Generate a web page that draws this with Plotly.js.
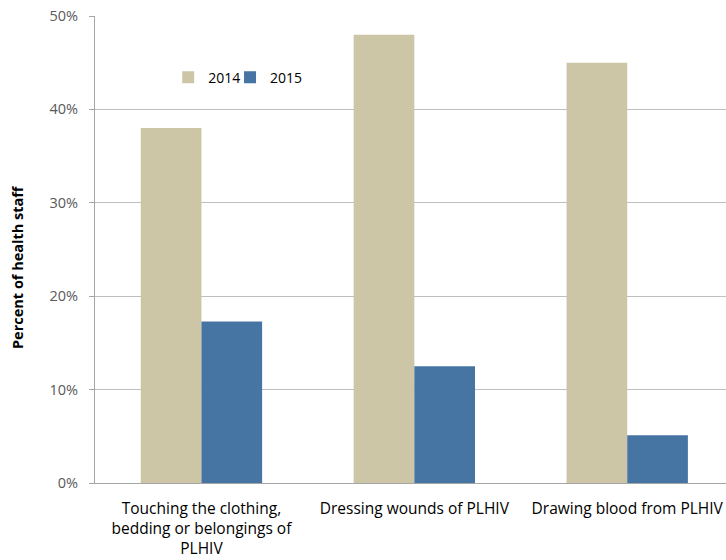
<!DOCTYPE html>
<html><head><meta charset="utf-8">
<script src="https://cdn.plot.ly/plotly-3.0.1.min.js"></script>
<style>html,body{margin:0;padding:0;background:#fff;}#chart{width:726px;height:560px;}</style>
</head><body><div id="chart"></div>
<script>
const categories = ["Touching the clothing,<br>bedding or belongings of<br>PLHIV", "Dressing wounds of PLHIV", "Drawing blood from PLHIV"];
const values2014 = [0.38, 0.48, 0.45];
const values2015 = [0.173, 0.125, 0.051];
const seriesNames = ["2014", "2015"];
const yTickVals = [0, 0.1, 0.2, 0.3, 0.4, 0.5];
const yTickText = ["0%", "10%", "20%", "30%", "40%", "50%"];
const yTitle = "Percent of health staff";

const font = "'Open Sans', sans-serif";
const traces = [
  {type: "bar", name: seriesNames[0], x: [0,1,2], y: values2014, marker: {color: "#CCC6A6"}, legend: "legend"},
  {type: "bar", name: seriesNames[1], x: [0,1,2], y: values2015, marker: {color: "#4674A3"}, legend: "legend2"}
];
const legendStyle = (x) => ({orientation: "h", x: x, y: 0.868, xanchor: "left", yanchor: "middle",
  font: {family: font, size: 14, color: "#000"}, bgcolor: "rgba(0,0,0,0)"});
const layout = {
  width: 726, height: 560,
  margin: {l: 95, r: 0, t: 16, b: 77, pad: 0},
  paper_bgcolor: "#fff", plot_bgcolor: "#fff",
  barmode: "group", bargap: 0.43, bargroupgap: 0,
  font: {family: font, size: 15, color: "#000"},
  showlegend: true,
  legend: legendStyle(0.116),
  legend2: legendStyle(0.214),
  xaxis: {range: [-0.5, 2.464], tickvals: [0,1,2], ticktext: categories, showgrid: false,
          showline: true, linecolor: "#a6a6a6", linewidth: 1, ticks: "", zeroline: false,
          ticklabelstandoff: 11,
          tickfont: {family: font, size: 15.5, color: "#000"}, fixedrange: true},
  yaxis: {range: [0, 0.5], tickvals: yTickVals, ticktext: yTickText, showgrid: true,
          gridcolor: "#bfbfbf", gridwidth: 1, showline: true, linecolor: "#a6a6a6", linewidth: 1,
          ticks: "outside", ticklen: 5, tickcolor: "#a6a6a6", zeroline: false, ticklabelstandoff: 8,
          tickfont: {family: font, size: 14.5, color: "#595959"}},
  annotations: [{text: "<b>" + yTitle + "</b>", textangle: -90, xref: "paper", yref: "paper",
                 x: -0.1228, y: 0.4615, xanchor: "center", yanchor: "middle", showarrow: false,
                 font: {family: font, size: 14.5, color: "#000"}}]
};
Plotly.newPlot("chart", traces, layout, {displayModeBar: false, staticPlot: true});
</script></body></html>
